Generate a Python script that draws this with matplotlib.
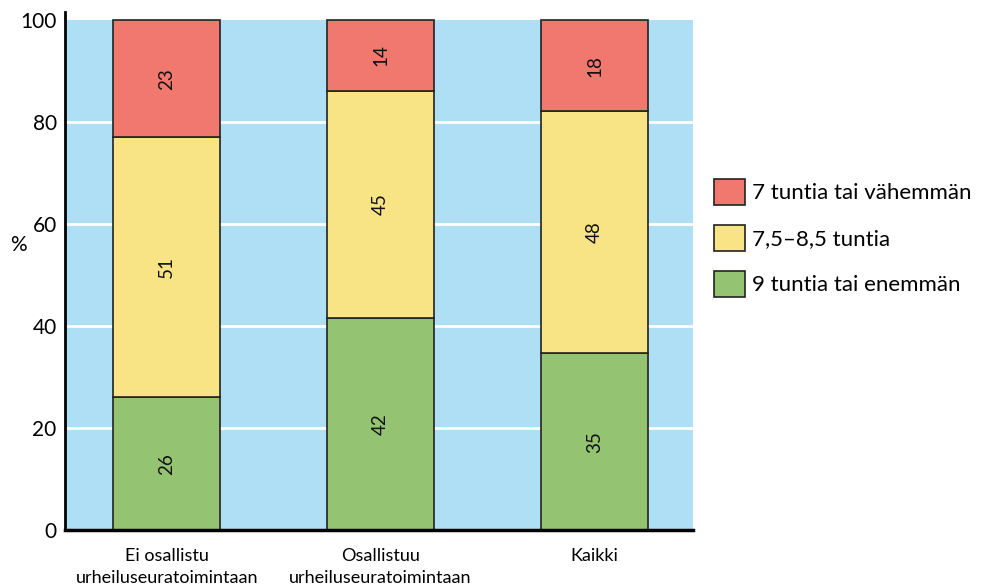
import matplotlib
matplotlib.use("Agg")
import matplotlib.pyplot as plt
import numpy as np

plt.rcParams['font.family'] = ['Lato', 'DejaVu Sans']

categories = ["Ei osallistu\nurheiluseuratoimintaan", "Osallistuu\nurheiluseuratoimintaan", "Kaikki"]
series_names = ["9 tuntia tai enemmän", "7,5–8,5 tuntia", "7 tuntia tai vähemmän"]
green_vals = [26, 42, 35]
yellow_vals = [51, 45, 48]
red_vals = [23, 14, 18]
yticks = [0, 20, 40, 60, 80, 100]

colors = ["#94c472", "#f8e484", "#f0786e"]
bg_blue = "#aedff5"

fig = plt.figure(figsize=(9.82, 5.87), dpi=100)
ax = fig.add_axes([65/982, 57/587, (693-65)/982, (530-12)/587])

x = np.arange(len(categories))
data = np.array([green_vals, yellow_vals, red_vals], dtype=float)
totals = data.sum(axis=0)
norm = data / totals * 100

ax.set_xlim(-0.475, 2.46)
ax.set_ylim(0, 101.6)
ax.axhspan(0, 100, facecolor=bg_blue, edgecolor='none', zorder=0)
for t in yticks[1:-1]:
    ax.axhline(t, color='white', lw=2, zorder=1)

bottom = np.zeros(len(categories))
for i in range(3):
    ax.bar(x, norm[i], width=0.5, bottom=bottom, color=colors[i],
           edgecolor='#222222', linewidth=1.2, zorder=2, label=series_names[i])
    for j in range(len(categories)):
        ax.text(x[j], bottom[j] + norm[i][j] / 2, f"{int(data[i][j])}", rotation=90,
                ha='center', va='center', fontsize=13.5, color='#111111', zorder=3)
    bottom += norm[i]

ax.set_yticks(yticks)
ax.set_yticklabels([str(t) for t in yticks], fontsize=15)
ax.set_xticks(x)
ax.set_xticklabels(categories, fontsize=13, linespacing=1.45)
ax.tick_params(axis='both', length=0, pad=6)
ax.tick_params(axis='x', pad=13)

for s in ['top', 'right']:
    ax.spines[s].set_visible(False)
ax.spines['left'].set_linewidth(2)
ax.spines['bottom'].set_linewidth(2.5)
ax.spines['bottom'].set_bounds(-0.475, 2.46)

fig.text(18/982, 1 - 245/587, "%", fontsize=15, ha='center', va='center')

handles, labels = ax.get_legend_handles_labels()
leg = fig.legend(handles[::-1], labels[::-1], loc='upper left',
                 bbox_to_anchor=(694/982, 1 - 159/587), frameon=False,
                 fontsize=16, handlelength=1.4, handleheight=1.4,
                 handletextpad=0.3, labelspacing=0.92)

fig.savefig("out.png", dpi=100)
